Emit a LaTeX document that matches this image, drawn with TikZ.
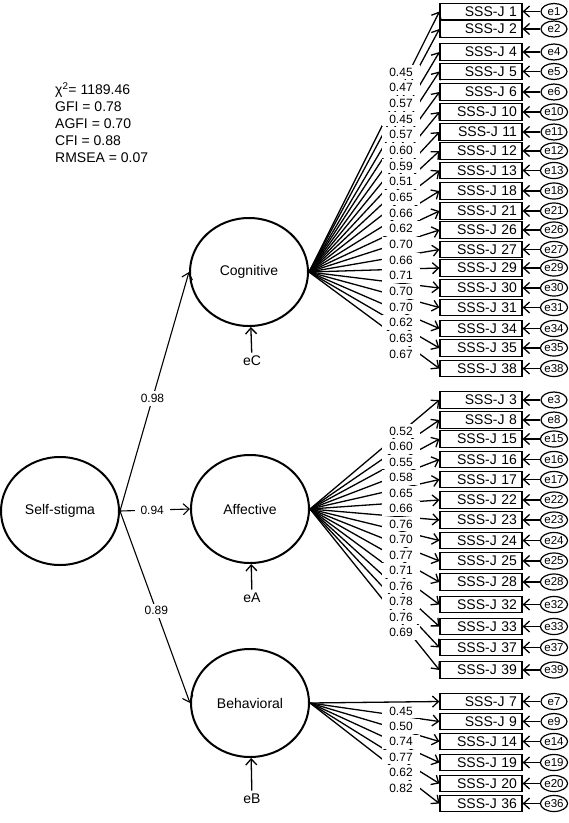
\documentclass[tikz,border=0pt]{standalone}
\usepackage{fontspec}
\setmainfont{Liberation Sans}
\usetikzlibrary{shapes.geometric,arrows.meta,positioning}

\begin{document}
\begin{tikzpicture}[x=1pt,y=-1pt,
	lat/.style={draw,ellipse,line width=2pt,minimum width=118pt,
		minimum height=108pt,font=\fontsize{14}{16}\selectfont},
	item/.style={draw,rectangle,line width=1.2pt,minimum width=82pt,
		minimum height=16.5pt,inner ysep=0pt,inner xsep=5pt,text width=72pt,
		align=right,font=\fontsize{14}{16}\selectfont},
	err/.style={draw,ellipse,line width=1.2pt,minimum width=26pt,
		minimum height=16pt,inner sep=0pt,font=\fontsize{11.5}{12}\selectfont},
	lab/.style={fill=white,inner xsep=7pt,inner ysep=3pt,
		font=\fontsize{12}{13}\selectfont},
	plab/.style={fill=white,inner xsep=6pt,inner ysep=3pt,
		font=\fontsize{12}{13}\selectfont},
	arr/.style={-{Straight Barb[length=6pt,width=11pt]},line width=1.3pt}]
	\useasboundingbox (0,0) rectangle (569,823);
	% fit indices
	\node[anchor=north west,align=left,inner sep=0pt,
		font=\fontsize{14}{17}\selectfont] (fit) at (55,82)
		{χ\textsuperscript{2}= 1189.46\\GFI = 0.78\\AGFI = 0.70\\CFI = 0.88\\RMSEA = 0.07};
	% latent variables
	\node[lat] (ss) at (60,511) {Self-stigma};
	\node[lat] (cog) at (249,272) {Cognitive};
	\node[lat] (aff) at (250,509) {Affective};
	\node[lat] (beh) at (250,703) {Behavioral};
	\node[font=\fontsize{14}{16}\selectfont] (eC) at (252,361) {eC};
	\node[font=\fontsize{14}{16}\selectfont] (eA) at (252,598) {eA};
	\node[font=\fontsize{14}{16}\selectfont] (eB) at (252,799) {eB};
	\draw[arr] (eC) -- (cog);
	\draw[arr] (eA) -- (aff);
	\draw[arr] (eB) -- (beh);
	\draw[arr,line width=1.1pt] (ss.east) -- node[plab,pos=0.47] {0.98} (cog.west);
	\draw[arr,line width=1.1pt] (ss.east) -- node[plab,pos=0.46] {0.94} (aff.west);
	\draw[arr,line width=1.1pt] (ss.east) -- node[plab,pos=0.52] {0.89} (beh.west);
	% cognitive items
	\foreach \n/\y in {1/11.5,2/29,4/52,5/71.5,6/92,10/112,11/132,12/151,
		13/170.5,18/191,21/211,26/230,27/249.5,29/268,30/288,31/307.5,
		34/328.5,35/348,38/368.5}{
		\node[item] (s\n) at (481,\y) {SSS-J \n};
		\node[err] (e\n) at (554,\y) {e\n};
		\draw[arr] (e\n) -- (s\n);
		\draw[arr] (cog.east) -- (s\n.west);
	}
	\foreach \l [count=\i] in {0.45,0.47,0.57,0.45,0.57,0.60,0.59,0.51,0.65,
		0.66,0.62,0.70,0.66,0.71,0.70,0.70,0.62,0.63,0.67}
		\node[lab] at (401,{72+15.67*(\i-1)}) {\l};
	% affective items
	\foreach \n/\y in {3/400,8/420,15/439,16/459.5,17/479.5,22/500,
		23/520,24/540.5,25/561,28/582,32/604.5,33/626.5,37/647.5,39/670}{
		\node[item] (s\n) at (481,\y) {SSS-J \n};
		\node[err] (e\n) at (554,\y) {e\n};
		\draw[arr] (e\n) -- (s\n);
		\draw[arr] (aff.east) -- (s\n.west);
	}
	\foreach \l [count=\i] in {0.52,0.60,0.55,0.58,0.65,0.66,0.76,0.70,0.77,
		0.71,0.76,0.78,0.76,0.69}
		\node[lab] at (401,{431+15.5*(\i-1)}) {\l};
	% behavioral items
	\foreach \n/\y in {7/701.5,9/721.5,14/741.5,19/762.5,20/783.5,36/803.5}{
		\node[item] (s\n) at (481,\y) {SSS-J \n};
		\node[err] (e\n) at (554,\y) {e\n};
		\draw[arr] (e\n) -- (s\n);
		\draw[arr] (beh.east) -- (s\n.west);
	}
	\foreach \l [count=\i] in {0.45,0.50,0.74,0.77,0.62,0.82}
		\node[lab] at (401,{711+15.4*(\i-1)}) {\l};
\end{tikzpicture}
\end{document}
